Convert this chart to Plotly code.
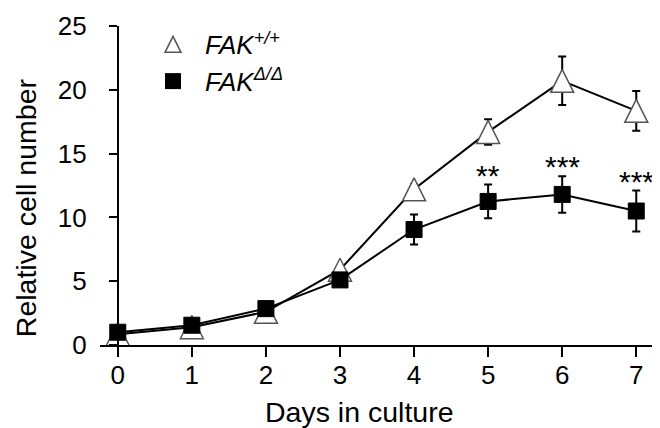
import plotly.graph_objects as go

days = [0, 1, 2, 3, 4, 5, 6, 7]
wt_mean = [0.85, 1.4, 2.6, 5.9, 12.2, 16.7, 20.7, 18.35]
wt_err = [0.15, 0.3, 0.35, 0.3, 0.4, 1.0, 1.9, 1.55]
ko_mean = [1.0, 1.55, 2.85, 5.1, 9.05, 11.25, 11.8, 10.5]
ko_err = [0.15, 0.3, 0.3, 0.3, 1.17, 1.32, 1.43, 1.6]
sig_days = [5, 6, 7]
sig_labels = ["**", "***", "***"]
x_ticks = [0, 1, 2, 3, 4, 5, 6, 7]
y_ticks = [0, 5, 10, 15, 20, 25]
wt_name = "<i>FAK<sup>+/+</sup></i>"
ko_name = "<i>FAK<sup>Δ/Δ</sup></i>"

FONT = "Liberation Sans, Arial, sans-serif"
TRI = 23
SQ = 16

fig = go.Figure()
fig.add_trace(go.Scatter(
    x=days, y=wt_mean, mode="lines+markers", showlegend=False, cliponaxis=False,
    line=dict(color="black", width=2),
    marker=dict(symbol="arrow-down", angle=180, standoff=TRI / 2, size=TRI,
                color="white", line=dict(color="#555555", width=1.5)),
    error_y=dict(type="data", array=wt_err, visible=True, color="black",
                 thickness=2, width=4),
))
fig.add_trace(go.Scatter(
    x=days, y=ko_mean, mode="lines+markers", showlegend=False, cliponaxis=False,
    line=dict(color="black", width=2),
    marker=dict(symbol="square", size=SQ, color="black",
                line=dict(color="black", width=1)),
    error_y=dict(type="data", array=ko_err, visible=True, color="black",
                 thickness=2, width=4),
))
# legend-only entries (legend negates marker standoff, so arrow-up is centred)
fig.add_trace(go.Scatter(
    x=[None], y=[None], mode="markers", name=wt_name,
    marker=dict(symbol="arrow-up", standoff=8, size=16,
                color="white", line=dict(color="#555555", width=1.5)),
))
fig.add_trace(go.Scatter(
    x=[None], y=[None], mode="markers", name=ko_name,
    marker=dict(symbol="square", size=16, color="black"),
))

for d, lab in zip(sig_days, sig_labels):
    i = days.index(d)
    fig.add_annotation(x=d, y=ko_mean[i] + ko_err[i], text=lab, showarrow=False,
                       xref="x", yref="y", yanchor="bottom", yshift=-9,
                       font=dict(family=FONT, size=30, color="black"))

fig.add_annotation(x=-0.134, y=0.43, xref="paper", yref="paper", text="Relative cell number",
                   textangle=-90, showarrow=False, xanchor="center", yanchor="middle",
                   font=dict(family=FONT, size=28.5, color="black"))
fig.add_annotation(x=3.27, y=-0.21, xref="x", yref="paper", text="Days in culture",
                   showarrow=False, xanchor="center", yanchor="middle",
                   font=dict(family=FONT, size=28.5, color="black"))

fig.update_layout(
    width=652, height=420,
    margin=dict(l=92, r=3, t=12, b=83),
    paper_bgcolor="white", plot_bgcolor="white",
    font=dict(family=FONT, size=26, color="black"),
    legend=dict(x=0.0736, y=1.016, xanchor="left", yanchor="top", itemwidth=54,
                bgcolor="rgba(0,0,0,0)", font=dict(family=FONT, size=26),
                tracegroupgap=0),
    xaxis=dict(range=[-0.24, 7.28], tickvals=x_ticks, showline=True, linecolor="black",
               linewidth=2, ticks="outside", ticklen=10, tickwidth=2, tickcolor="black",
               showgrid=False, zeroline=False, ticklabelstandoff=-4,
               tickfont=dict(size=26)),
    yaxis=dict(range=[0, 25], tickvals=y_ticks, showline=True, linecolor="black",
               linewidth=2, ticks="outside", ticklen=8, tickwidth=2, tickcolor="black",
               showgrid=False, zeroline=False, anchor="free", position=0.032,
               ticklabelstandoff=17, ticklabeloverflow="allow",
               tickfont=dict(size=26)),
)

fig.write_html("out.html")
